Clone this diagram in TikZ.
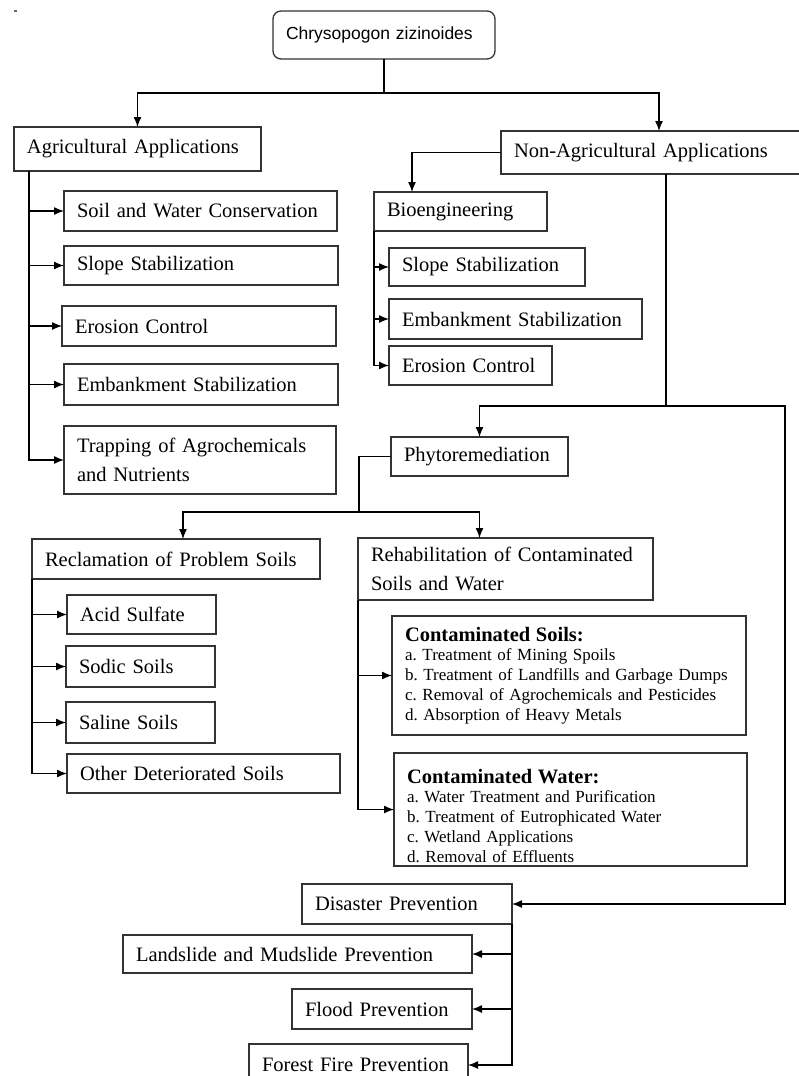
\documentclass[tikz,border=0pt]{standalone}
\usepackage{fontspec}
\setmainfont{Liberation Serif}
\setsansfont{Liberation Sans}
\usetikzlibrary{arrows.meta}
\frenchspacing

\tikzset{
  box/.style={draw=black!80, line width=1.3pt, rectangle, anchor=north west,
    outer sep=0pt, inner xsep=13pt, inner ysep=0pt, align=left,
    font=\fontsize{20.5}{29}\selectfont},
  bx/.code 2 args={\pgfmathsetmacro\bxw{#1-26}%
    \pgfkeysalso{minimum width=#1pt, minimum height=#2pt, text width=\bxw pt}},
  listbox/.style={box, font=\fontsize{17}{19.8}\selectfont},
  link/.style={line width=1.3pt, -{Latex[length=10pt,width=8pt]}},
  spine/.style={line width=1.3pt},
}

\begin{document}
\begin{tikzpicture}[x=1pt, y=-1pt]
    \useasboundingbox (0,0) rectangle (799,1076);
    \fill[black!60] (14,10) rectangle (17,12);

    % Define nodes for the diagram
    \node[box, bx={222}{48}, rounded corners=8pt, font=\sffamily\fontsize{17.5}{20}\selectfont] (root) at (273,11) {Chrysopogon zizinoides};

    \node[box, bx={247}{44}] (agri) at (14,127) {Agricultural Applications};
    \node[box, bx={316}{43}] (nonagri) at (501,131) {Non-Agricultural Applications};

    \node[box, bx={273}{40}] (aswc) at (64,191) {Soil and Water Conservation};
    \node[box, bx={274}{39}] (aslope) at (64,246) {Slope Stabilization};
    \node[box, bx={274}{40}] (aeros) at (62,306) {Erosion Control};
    \node[box, bx={274}{41}] (aemb) at (64,364) {Embankment Stabilization};
    \node[box, bx={272}{68}] (atrap) at (64,426) {Trapping of Agrochemicals\\and Nutrients};

    \node[box, bx={173}{39}] (bio) at (374,192) {Bioengineering};
    \node[box, bx={196}{38}] (bslope) at (389,248) {Slope Stabilization};
    \node[box, bx={253}{40}] (bemb) at (389,299) {Embankment Stabilization};
    \node[box, bx={163}{39}] (beros) at (389,346) {Erosion Control};

    \node[box, bx={177}{39}] (phyto) at (391,437) {Phytoremediation};

    \node[box, bx={288}{40}] (recl) at (32,539) {Reclamation of Problem Soils};
    \node[box, bx={149}{39}] (acid) at (67,595) {Acid Sulfate};
    \node[box, bx={149}{41}] (sodic) at (66,646) {Sodic Soils};
    \node[box, bx={149}{41}] (saline) at (66,702) {Saline Soils};
    \node[box, bx={273}{39}] (other) at (67,754) {Other Deteriorated Soils};

    \node[box, bx={295}{62}] (rehab) at (358,538) {Rehabilitation of Contaminated\\Soils and Water};
    \node[listbox, bx={354}{119}] (csoil) at (392,616) {{\fontsize{20.5}{22}\selectfont\bfseries Contaminated Soils:}\\a. Treatment of Mining Spoils\\b. Treatment of Landfills and Garbage Dumps\\c. Removal of Agrochemicals and Pesticides\\d. Absorption of Heavy Metals};
    \begin{scope}
      \clip (393,752) rectangle (748,867);
      \node[listbox, bx={353}{113}, text depth=67pt] (cwater) at (394,753) {{\fontsize{20.5}{22}\selectfont\bfseries Contaminated Water:}\\a. Water Treatment and Purification\\b. Treatment of Eutrophicated Water\\c. Wetland Applications\\d. Removal of Effluents};
    \end{scope}

    \node[box, bx={210}{40}] (disaster) at (302,884) {Disaster Prevention};
    \node[box, bx={349}{38}] (landslide) at (123,935) {Landslide and Mudslide Prevention};
    \node[box, bx={180}{40}] (flood) at (292,989) {Flood Prevention};
    \node[box, bx={219}{42}] (forest) at (249,1044) {Forest Fire Prevention};

    \coordinate (nsplit) at (666,406);
    \coordinate (rbend) at (785,406);
    \coordinate (psplit) at (359,512);

    % Draw the connections
    \draw[link] (root.south) -- ++(0,34) -| (agri.north);
    \draw[link] (root.south) -- ++(0,34) -| (nonagri.north);

    \draw[link] ([xshift=15pt]agri.south west) |- (aswc.west);
    \draw[link] ([xshift=15pt]agri.south west) |- (aslope.west);
    \draw[link] ([xshift=15pt]agri.south west) |- (aeros.west);
    \draw[link] ([xshift=15pt]agri.south west) |- (aemb.west);
    \draw[link] ([xshift=15pt]agri.south west) |- (atrap.west);

    \draw[link] (nonagri.west) -| ([xshift=38pt]bio.north west);
    \draw[link] (bio.south west) |- (bslope.west);
    \draw[link] (bio.south west) |- (bemb.west);
    \draw[link] (bio.south west) |- (beros.west);

    % Draw the long branches
    \draw[spine] ([xshift=7pt]nonagri.south) -- (nsplit);
    \draw[link] (nsplit) -| (phyto.north);
    \draw[link] (nsplit) -- (rbend) |- (disaster.east);

    \draw[spine] (phyto.west) -| (psplit);
    \draw[link] (psplit) -| ([xshift=7pt]recl.north);
    \draw[link] (psplit) -| (rehab.north -| phyto.north);

    \draw[link] (recl.south west) |- (acid.west);
    \draw[link] (recl.south west) |- (sodic.west);
    \draw[link] (recl.south west) |- (saline.west);
    \draw[link] (recl.south west) |- (other.west);

    \draw[link] (rehab.south west) |- (csoil.west);
    \draw[link] (rehab.south west) |- (cwater.west);

    \draw[link] (disaster.south east) |- (landslide.east);
    \draw[link] (disaster.south east) |- (flood.east);
    \draw[link] (disaster.south east) |- (forest.east);
\end{tikzpicture}
\end{document}
